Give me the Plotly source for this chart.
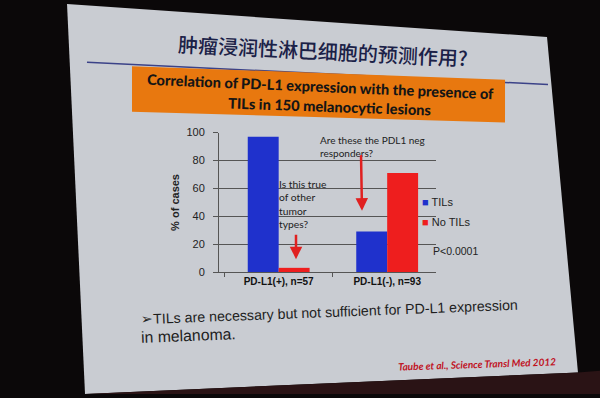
import plotly.graph_objects as go

W, H = 600, 398

# ---- data ----
categories = ["PD-L1(+), n=57", "PD-L1(-), n=93"]
tils = [97, 29]
no_tils = [3, 71]
series_names = ["TILs", "No TILs"]
y_ticks = [0, 20, 40, 60, 80, 100]

BLUE = "#1f31cc"
RED = "#ee1e1e"


def px(x):
    return x / W


def py(y):
    return 1 - y / H


def path(points):
    s = "M " + " L ".join(f"{px(x):.4f},{py(y):.4f}" for x, y in points) + " Z"
    return s


fig = go.Figure()
fig.add_trace(go.Bar(x=categories, y=tils, name=series_names[0], marker_color=BLUE,
                     marker_line_width=0))
fig.add_trace(go.Bar(x=categories, y=no_tils, name=series_names[1], marker_color=RED,
                     marker_line_width=0))

shapes = [
    # slide
    dict(type="path", xref="paper", yref="paper", layer="below",
         path=path([(67, -2), (547, 32), (578, 378), (85, 400)]),
         fillcolor="#c9ccd2", line=dict(width=0)),
    # dark-red band under slide
    dict(type="path", xref="paper", yref="paper", layer="below",
         path=path([(85, 400), (578, 378), (600, 376), (600, 400)]),
         fillcolor="#2a1315", line=dict(width=0)),
    # blue rule under title
    dict(type="line", xref="paper", yref="paper", layer="below",
         x0=px(87), y0=py(58), x1=px(548), y1=py(81),
         line=dict(color="#3b4288", width=1.5)),
    # orange header box
    dict(type="path", xref="paper", yref="paper", layer="below",
         path=path([(132, 62), (505, 76), (505, 120), (132, 109)]),
         fillcolor="#e8780f", line=dict(width=0)),
]

annotations = [
    dict(text="肿瘤浸润性淋巴细胞的预测作用?", x=px(323), y=py(46), textangle=2.8,
         font=dict(family="Noto Sans CJK SC", size=20, color="#1b2147", weight=500)),
    dict(text="Correlation of PD-L1 expression with the presence of", x=px(320.5), y=py(83),
         textangle=2.4, font=dict(family="Lato", size=14.6, color="#151515", weight=900)),
    dict(text="TILs in 150 melanocytic lesions", x=px(330), y=py(104),
         textangle=2.0, font=dict(family="Lato", size=14.6, color="#151515", weight=900)),
    dict(text="<b>% of cases</b>", x=px(175), y=py(203), textangle=-90,
         font=dict(family="Liberation Sans", size=11, color="#222")),
    dict(text="Are these the PDL1 neg<br>responders?", x=px(318), y=py(145), xanchor="left",
         align="left", font=dict(family="Lato", size=10, color="#222")),
    dict(text="Is this true<br>of other<br>tumor<br>types?", x=px(277), y=py(204), xanchor="left",
         align="left", font=dict(family="Lato", size=10.3, color="#222")),
    dict(text=f"<span style='color:{BLUE}'>■</span> {series_names[0]}", x=px(420), y=py(202),
         xanchor="left", font=dict(family="Liberation Sans", size=11, color="#222")),
    dict(text=f"<span style='color:{RED}'>■</span> {series_names[1]}", x=px(420), y=py(223),
         xanchor="left", font=dict(family="Liberation Sans", size=11, color="#222")),
    dict(text="P<0.0001", x=px(431), y=py(253), xanchor="left",
         font=dict(family="Liberation Sans", size=10.5, color="#222")),
    dict(text="➢TILs are necessary but not sufficient for PD-L1 expression",
         x=px(329), y=py(315), textangle=-2.2,
         font=dict(family="Liberation Sans", size=14.2, color="#1e1e1e")),
    dict(text="in melanoma.", x=px(188), y=py(340), textangle=-2.2,
         font=dict(family="Liberation Sans", size=15.8, color="#1e1e1e")),
    dict(text="<b><i>Taube et al., Science Transl Med 2012</i></b>", x=px(477), y=py(369),
         textangle=-1.9, font=dict(family="Lato", size=10, color="#c0121f")),
    # arrows
    dict(text="", x=px(296), y=py(261), ax=0, ay=-26, showarrow=True, arrowhead=2,
         arrowsize=1, arrowwidth=2.5, arrowcolor="#e02020"),
    dict(text="", x=px(362), y=py(211), ax=-1, ay=-57, showarrow=True, arrowhead=2,
         arrowsize=1, arrowwidth=2.5, arrowcolor="#e02020"),
]
for a in annotations:
    a.setdefault("xref", "paper")
    a.setdefault("yref", "paper")
    a.setdefault("showarrow", False)
    a.setdefault("xanchor", "center")
    a.setdefault("yanchor", "middle")

fig.update_layout(
    width=W, height=H,
    margin=dict(l=0, r=0, t=0, b=0),
    paper_bgcolor="#0b0809",
    plot_bgcolor="rgba(0,0,0,0)",
    barmode="group",
    bargap=0.43,
    bargroupgap=0,
    showlegend=False,
    shapes=shapes,
    annotations=annotations,
    xaxis=dict(domain=[px(219), px(436)], range=[-0.55, 1.45], type="category",
               showline=True, linecolor="#555", linewidth=1, showgrid=False,
               ticks="outside", tickson="boundaries", ticklen=4, tickcolor="#555",
               tickfont=dict(family="Liberation Sans", size=10, color="#111", weight="bold")),
    yaxis=dict(domain=[py(274.3), py(130.5)], range=[0, 100], tickvals=y_ticks,
               showline=True, linecolor="#555", linewidth=1,
               showgrid=True, gridcolor="#555", gridwidth=1, zeroline=False,
               ticks="outside", ticklen=5, tickcolor="#555", ticklabelstandoff=6,
               tickfont=dict(family="Liberation Sans", size=11, color="#222")),
)

fig.write_html("out.html", config={"displayModeBar": False},
               post_script="document.body.style.margin='0';document.body.style.overflow='hidden';")
